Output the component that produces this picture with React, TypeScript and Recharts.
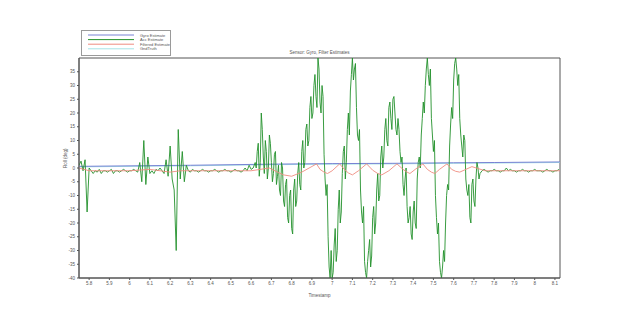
import React from 'react';
import { LineChart, Line, XAxis, YAxis, ReferenceArea, Legend } from 'recharts';

const T0 = 5.75;
const DT = 0.01;

// Acc Estimate (sampled every 0.01 s from 5.75)
const accValues = [
  1, 2.5, -1, 3, -16, 0,
  -1, -2, -1, -1.5, -0.5, -2, -1, -1, -1.5, -1, -0.5, -2, -1, -1, -1.5, -1, -0.5, -1, -1.5, -1, -1, -0.5, -1, -1.5,
  2, -5, 10, -6, 4, -2,
  -1, -2, -0.5, -1, 0, -1, -2,
  3, -3, 8, -4, -8, -30, 14, -4, 6, -5, 1,
  -1, -1.5, -0.5, -1, -1, -1.5, -1, -0.5, -1, -1, -1.5, -1, -1, -0.5, -1, -1.5, -1, -1, -0.5, -1, -1, -1.5, -1, -0.5, -1, -1, -1.5, -1, 0, -1, 1, -0.5, 0,
  2, 6, -3, 20, 4, 10, -4, 12, 2, -2, 6,
  -3, -8, 2, -12, -6, -18, -10, -22,
  -8, -14, -2, -6, 6, 0, 14, 8, 22, 18, 30, 26, 40,
  24, 30, 5, -10, -25, -40,
  -40, -28, -34, -15, -20, -2, 8, 2, 20, 28, 40,
  36, 22, 10, -8, -20, -34, -40,
  -30, -36, -18, -24, -8, -12, 4, 0, 14, 10, 22, 18, 25,
  20, 12, 14, 2, -6, -4, -14, -18, -24,
  -16, -20, -4, 4, 12, 24, 30, 40,
  30, 18, 6, -10, -24, -34, -40,
  -30, -20, -6, 8, 22, 32, 40,
  30, 18, 8, 12, -4, -10, -18,
  -6, -12, -4, 0, -2,
  -1, -0.5, -1, -1.5, -1, -1, -0.5, -1, -1, -1.5, -1, -1, 0, -1, -0.5, -1, -1, -1.5, -1, -1, -0.5, -1, -1, -1.5, -1, -1, -0.5, -1, -1, -1, -1.5, -1, -0.5, -1, -1, -1.5, -1, -1, -0.5,
];

// Extra Acc samples in the active stretch, at the half steps from 6.625 s
const ACC_MID_T0 = 6.625;
const accMidValues = [
  0, 9, 2, 14, -2, 6, 0, 9, -5, 5,
  -6, 1, -10, 0, -14, -4, -20, -8, -24,
  -4, -12, 2, -8, 10, 2, 16, 10, 26, 20, 34, 22, 36,
  20, 26, -4, -6, -36, -30,
  -38, -22, -30, -8, -16, 6, -4, 14, 12, 34, 32,
  38, 12, 14, -16, -14, -38, -34,
  -26, -32, -14, -20, -2, -10, 8, 4, 18, 8, 24, 14, 26,
  14, 18, 6, 4, -10, 0, -20, -14, -26,
  -12, -22, 2, 0, 18, 20, 36, 34,
  36, 12, 10, -18, -20, -38, -36,
  -34, -10, -8, 16, 18, 38, 36,
  34, 12, 4, 10, -8, -6, -20,
  -4, -14, 2, -4,
];

// Gyro Estimate
const gyroTimes = [5.75, 6.3, 6.7, 7.0, 7.3, 7.6, 7.8, 8.125];
const gyroValues = [0.6, 1.0, 1.4, 1.6, 1.7, 1.9, 2.0, 2.2];

// GndTruth
const truthTimes = [5.75, 6.3, 6.7, 7.0, 7.3, 7.6, 7.8, 8.125];
const truthValues = [0.4, 0.8, 1.2, 1.4, 1.5, 1.7, 1.8, 2.0];

// Filtered Estimate
const filtTimes = [
  5.75, 5.8, 6.0, 6.1, 6.2, 6.25, 6.5, 6.6, 6.69, 6.73,
  6.76, 6.8, 6.85, 6.923, 6.94, 6.96, 6.977, 7.0, 7.037, 7.06,
  7.08, 7.1, 7.13, 7.17, 7.2, 7.225, 7.245, 7.28, 7.32, 7.35,
  7.37, 7.384, 7.41, 7.448, 7.47, 7.49, 7.507, 7.53, 7.567, 7.59,
  7.61, 7.63, 7.66, 7.69, 7.755, 8.125,
];
const filtValues = [
  0, -1, -1, -0.5, -1.5, -1, -1, -1, 0, -1.5,
  -2.5, -3, -1.5, 1.5, -0.5, -1.5, -2, -1, 1.5, -0.5,
  -1.8, -2.5, -1, 1.5, -0.8, -2, -2.5, -1, 1.5, -0.5,
  -1.5, -2, -0.5, 1.5, -0.5, -1.5, -2, -0.5, 1.5, -0.5,
  -1.2, -1.5, -0.5, 0.5, -1, -1,
];

const xTicks = [5.8, 5.9, 6, 6.1, 6.2, 6.3, 6.4, 6.5, 6.6, 6.7, 6.8, 6.9, 7, 7.1, 7.2, 7.3, 7.4, 7.5, 7.6, 7.7, 7.8, 7.9, 8, 8.1];
const yTicks = [-40, -35, -30, -25, -20, -15, -10, -5, 0, 5, 10, 15, 20, 25, 30, 35];

const seriesNames = ['Gyro Estimate', 'Acc Estimate', 'Filtered Estimate', 'GndTruth'];
const seriesColors = ['#7883d4', '#23912b', '#ef8c80', '#a6e3e6'];

const X_MIN = 5.75;
const X_MAX = 8.125;
const Y_MIN = -40;
const Y_MAX = 40;

const accData = [
  ...accValues.map((v, i) => ({ t: Math.round((T0 + i * DT) * 1000) / 1000, v })),
  ...accMidValues.map((v, i) => ({ t: Math.round((ACC_MID_T0 + i * DT) * 1000) / 1000, v })),
].sort((a, b) => a.t - b.t);
const gyroData = gyroTimes.map((t, i) => ({ t, v: gyroValues[i] }));
const truthData = truthTimes.map((t, i) => ({ t, v: truthValues[i] }));
const filtData = filtTimes.map((t, i) => ({ t, v: filtValues[i] }));

const FONT = '"Liberation Sans", Arial, sans-serif';

function LegendBox() {
  return (
    <div style={{ width: 90, height: 26, border: '1px solid #9a9a9a', background: '#fff', boxSizing: 'border-box' }}>
      <svg width={88} height={24} style={{ display: 'block' }}>
        {seriesNames.map((name, i) => (
          <g key={name}>
            <line x1={6} x2={52} y1={4 + i * 4.6} y2={4 + i * 4.6} stroke={seriesColors[i]} strokeWidth={1} />
            <text x={58} y={5.6 + i * 4.6} fontSize={4} fill="#555" fontFamily={FONT}>{name}</text>
          </g>
        ))}
      </svg>
    </div>
  );
}

export default function App() {
  return (
    <div style={{ position: 'absolute', left: 0, top: 0, width: 640, height: 320, background: '#fff' }}>
      <LineChart width={640} height={320} margin={{ top: 58, right: 80, bottom: 22, left: 59 }}>
        <XAxis
          dataKey="t"
          type="number"
          domain={[X_MIN, X_MAX]}
          ticks={xTicks}
          allowDataOverflow
          tickFormatter={(v: number) => String(Math.round(v * 10) / 10)}
          tick={{ fontSize: 4.5, fill: '#555', fontFamily: FONT }}
          tickSize={2}
          stroke="#555"
          height={20}
          label={{ value: 'Timestamp', position: 'insideBottom', offset: 1, fontSize: 4.5, fill: '#555', fontFamily: FONT }}
        />
        <YAxis
          type="number"
          domain={[Y_MIN, Y_MAX]}
          ticks={yTicks}
          allowDataOverflow
          tick={{ fontSize: 4.5, fill: '#555', fontFamily: FONT }}
          tickSize={2}
          stroke="#555"
          width={20}
          label={{ value: 'Roll (deg)', angle: -90, position: 'insideLeft', offset: 6, fontSize: 4.5, fill: '#555', fontFamily: FONT }}
        />
        <Legend
          layout="horizontal"
          verticalAlign="middle"
          align="center"
          wrapperStyle={{ position: 'absolute', left: 81, top: 30, width: 90, height: 26 }}
          content={() => <LegendBox />}
        />
        <Line data={truthData} dataKey="v" type="linear" stroke={seriesColors[3]} strokeWidth={1} dot={false} isAnimationActive={false} />
        <Line data={gyroData} dataKey="v" type="linear" stroke={seriesColors[0]} strokeWidth={1} dot={false} isAnimationActive={false} />
        <Line data={accData} dataKey="v" type="linear" stroke={seriesColors[1]} strokeWidth={0.9} dot={false} isAnimationActive={false} />
        <Line data={filtData} dataKey="v" type="linear" stroke={seriesColors[2]} strokeWidth={0.9} dot={false} isAnimationActive={false} />
        <ReferenceArea
          x1={X_MIN}
          x2={X_MAX}
          y1={Y_MIN}
          y2={Y_MAX}
          fill="none"
          fillOpacity={0}
          stroke="#555"
          strokeWidth={1}
          label={{ value: 'Sensor: Gyro, Filter Estimates', position: 'top', offset: 4, fontSize: 4.5, fill: '#555', fontFamily: FONT }}
        />
      </LineChart>
    </div>
  );
}
